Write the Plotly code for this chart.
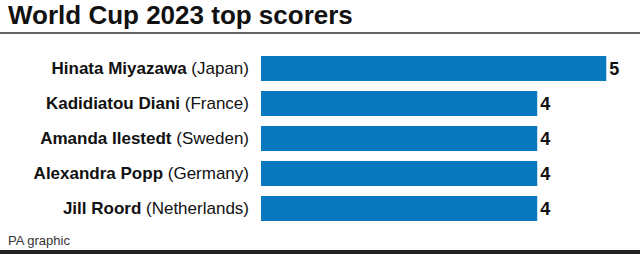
import plotly.graph_objects as go

names = ["Hinata Miyazawa", "Kadidiatou Diani", "Amanda Ilestedt", "Alexandra Popp", "Jill Roord"]
countries = ["Japan", "France", "Sweden", "Germany", "Netherlands"]
goals = [5, 4, 4, 4, 4]

W_PX, H_PX = 640, 254
L, T, B = 261, 51, 28
XMAX = 5.3
PW = 366
R = W_PX - L - PW
PH = H_PX - T - B

def px_to_paper_x(px):
    return (px - L) / PW

def px_to_paper_y(py):
    return (H_PX - B - py) / PH

labels = [f"<b>{n}</b> ({c})" for n, c in zip(names, countries)]
FONT = "Liberation Sans, Arial, sans-serif"

fig = go.Figure(go.Bar(
    x=goals, y=labels, orientation="h",
    marker=dict(color="#0a78be", line=dict(width=0)),
    text=[str(g) for g in goals], textposition="outside",
    textfont=dict(size=18, color="#111111", family=FONT, weight="bold"),
    cliponaxis=False, width=0.714,
))

fig.update_layout(
    width=W_PX, height=H_PX,
    margin=dict(l=L, r=R, t=T, b=B, pad=0),
    paper_bgcolor="white", plot_bgcolor="white",
    showlegend=False,
    font=dict(family=FONT, color="#111111"),
    xaxis=dict(range=[0, XMAX], visible=False, fixedrange=True),
    yaxis=dict(autorange="reversed", showgrid=False, zeroline=False, showline=False,
               ticks="", ticklabelstandoff=11,
               tickfont=dict(size=17, color="#111111", family=FONT)),
    shapes=[
        dict(type="line", xref="paper", yref="paper",
             x0=px_to_paper_x(0), x1=px_to_paper_x(W_PX),
             y0=px_to_paper_y(33), y1=px_to_paper_y(33),
             line=dict(color="#333333", width=1.5)),
        dict(type="line", xref="paper", yref="paper",
             x0=px_to_paper_x(0), x1=px_to_paper_x(W_PX),
             y0=px_to_paper_y(252), y1=px_to_paper_y(252),
             line=dict(color="#222222", width=4)),
    ],
    annotations=[
        dict(text="<b>World Cup 2023 top scorers</b>", xref="paper", yref="paper",
             x=px_to_paper_x(6), y=px_to_paper_y(15), xanchor="left", yanchor="middle",
             showarrow=False, font=dict(size=26, color="#111111", family=FONT)),
        dict(text="PA graphic", xref="paper", yref="paper",
             x=px_to_paper_x(6), y=px_to_paper_y(241), xanchor="left", yanchor="middle",
             showarrow=False, font=dict(size=13, color="#333333", family=FONT)),
    ],
)

fig.write_html("out.html")
